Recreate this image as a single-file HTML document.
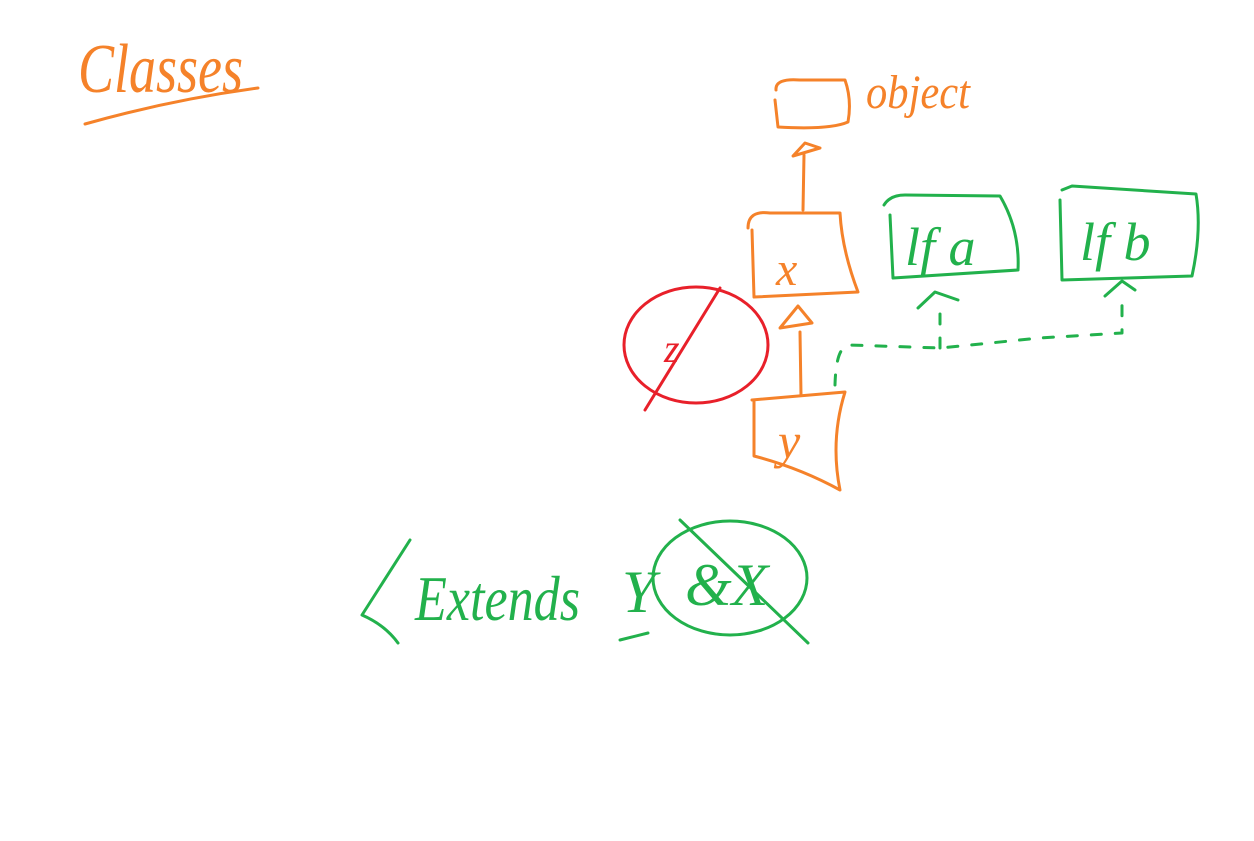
<!DOCTYPE html>
<html><head><meta charset="utf-8"><style>
html,body{margin:0;padding:0;background:#fff;width:1254px;height:841px;overflow:hidden}
svg{display:block}
.o{stroke:#f5822a;fill:none;stroke-width:3;stroke-linecap:round;stroke-linejoin:round}
.g{stroke:#22b14c;fill:none;stroke-width:3;stroke-linecap:round;stroke-linejoin:round}
.r{stroke:#e8202a;fill:none;stroke-width:3;stroke-linecap:round}
.t{font-family:"Liberation Serif",serif;font-style:italic}
</style></head><body>
<svg width="1254" height="841" viewBox="0 0 1254 841">
<g>
<text class="t" x="78" y="92" font-size="70" textLength="165" lengthAdjust="spacingAndGlyphs" fill="#f5822a">Classes</text>
<path class="o" d="M85 124 Q170 100 258 88"/>
</g>
<g>
<path class="o" d="M776 90 Q775 78 800 80 L845 80 Q852 100 848 122 Q830 130 778 127 L775 100"/>
<text class="t" x="866" y="108" font-size="48" textLength="104" lengthAdjust="spacingAndGlyphs" fill="#f5822a">object</text>
</g>
<g>
<path class="o" d="M803 210 L804 155"/>
<path class="o" d="M793 156 L805 143 L820 148 Z"/>
</g>
<g>
<path class="o" d="M748 228 Q748 210 770 213 L840 213 Q842 250 858 292 L754 297 L752 230"/>
<text class="t" x="776" y="285" font-size="48" fill="#f5822a">x</text>
</g>
<g>
<path class="o" d="M780 328 L798 306 L812 323 Z"/>
<path class="o" d="M800 332 L801 395"/>
</g>
<g>
<path class="o" d="M752 400 L845 392 Q830 440 840 490 Q800 468 754 456 L754 400"/>
<text class="t" x="778" y="458" font-size="50" fill="#f5822a">y</text>
</g>
<g>
<ellipse class="r" cx="696" cy="345" rx="72" ry="58"/>
<path class="r" d="M720 288 L645 410"/>
<text class="t" x="664" y="362" font-size="40" fill="#e8202a">z</text>
</g>
<g>
<path class="g" d="M884 205 Q890 195 905 195 L1000 196 Q1020 230 1018 270 L893 278 L890 215"/>
<text class="t" x="905" y="265" font-size="54" fill="#22b14c">lf a</text>
<path class="g" d="M918 308 L935 292 L958 300"/>
</g>
<g>
<path class="g" d="M1062 190 L1072 186 L1196 194 Q1202 230 1192 276 L1062 280 L1060 200"/>
<text class="t" x="1080" y="260" font-size="54" fill="#22b14c">lf b</text>
<path class="g" d="M1105 296 L1122 281 L1135 290"/>
</g>
<path class="g" stroke-dasharray="10 14" d="M835 385 Q836 345 850 345 L940 348 L1040 338 L1122 333 L1122 300 M940 348 L940 310"/>
<g>
<path class="g" d="M410 540 L362 615 Q385 625 398 643"/>
<text class="t" x="415" y="620" font-size="64" textLength="165" lengthAdjust="spacingAndGlyphs" fill="#22b14c">Extends</text>
<text class="t" x="622" y="612" font-size="60" fill="#22b14c">Y</text>
<path class="g" d="M620 640 L648 633"/>
<ellipse class="g" cx="730" cy="578" rx="77" ry="57"/>
<text class="t" x="685" y="605" font-size="60" fill="#22b14c">&amp;X</text>
<path class="g" d="M680 520 L808 643"/>
</g>
</svg>
</body></html>
